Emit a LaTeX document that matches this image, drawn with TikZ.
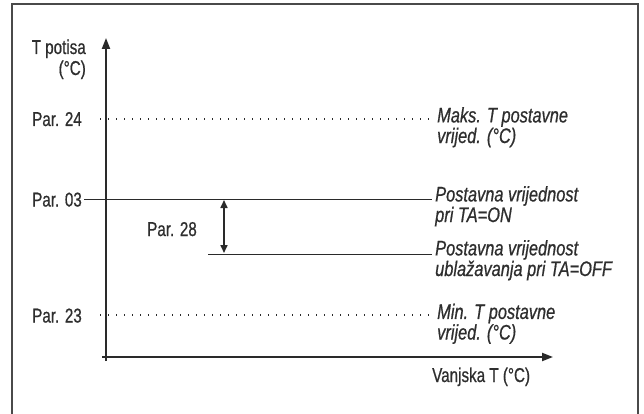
\documentclass[tikz,border=0pt]{standalone}
\usepackage{fontspec}
\setmainfont{Liberation Sans}[FakeStretch=0.76,FakeBold=0.7]
\newfontfamily\rfont{Liberation Sans}[FakeStretch=0.78,FakeBold=0.7]
\usetikzlibrary{arrows.meta}
\definecolor{ink}{HTML}{2A2A2A}
\definecolor{txt}{HTML}{2E2E2E}
\begin{document}
\begin{tikzpicture}[x=1pt,y=-1pt,
  lab/.style={inner sep=0pt, text=txt, font=\fontsize{20}{20}\selectfont},
  rlab/.style={lab, anchor=base west, align=left, font=\rfont\fontsize{21}{18}\selectfont\itshape},
  axis/.style={ink, line width=2pt, -{Triangle[length=11pt,width=8pt]}},
  level/.style={ink, line width=1pt},
  dots/.style={ink, line width=1.2pt, dash pattern=on 1.2pt off 6.8pt},
  frame/.style={ink!85, line width=2pt}]
\useasboundingbox (0,0) rectangle (644,414);
% frame
\draw[frame] (12,414) -- (12,4) -- (638,4) -- (638,414);
% axes
\coordinate (yb) at (106,361);
\coordinate (yt) at (106,38);
\coordinate (xl) at (102,357);
\coordinate (xr) at (553,357);
\draw[axis] (yb) -- (yt);
\draw[axis] (xl) -- (xr);
% axis labels
\node[lab, anchor=base east, align=right, font=\fontsize{20}{21}\selectfont] (ylab) at (86,75) {T potisa\\(°C)};
\node[lab, anchor=base west] (xlab) at (432,382) {Vanjska T (°C)};
% left labels
\node[lab, anchor=base east] (p24) at (82,126) {Par. 24};
\node[lab, anchor=base east] (p03) at (82,206.5) {Par. 03};
\node[lab, anchor=base east] (p23) at (82,322.5) {Par. 23};
\node[lab, anchor=base] (p28) at (172,236) {Par. 28};
% line ends
\coordinate (a24) at (100,119);
\coordinate (b24) at (430,119);
\coordinate (b03) at (432,199);
\coordinate (a28) at (208,254);
\coordinate (b28) at (432,254);
\coordinate (a23) at (100,315);
\coordinate (b23) at (430,315);
\draw[dots] (a24) -- (b24);
\draw[level] (p03.east |- b03) ++(2,0) -- (b03);
\draw[level] (a28) -- (b28);
\draw[dots] (a23) -- (b23);
% Par. 28 arrow
\coordinate (t28) at (224,200);
\coordinate (u28) at (224,253);
\draw[ink, line width=1.6pt, {Triangle[length=8pt,width=7pt]}-{Triangle[length=8pt,width=7pt]}] (t28) -- (u28);
% right labels
\node[rlab] (r24) at (437,143) {Maks. T postavne\\vrijed. (°C)};
\node[rlab] (r03) at (435,222) {Postavna vrijednost\\pri TA=ON};
\node[rlab] (r28) at (435,276) {Postavna vrijednost\\ublažavanja pri TA=OFF};
\node[rlab] (r23) at (437,339.5) {Min. T postavne\\vrijed. (°C)};
\end{tikzpicture}
\end{document}
